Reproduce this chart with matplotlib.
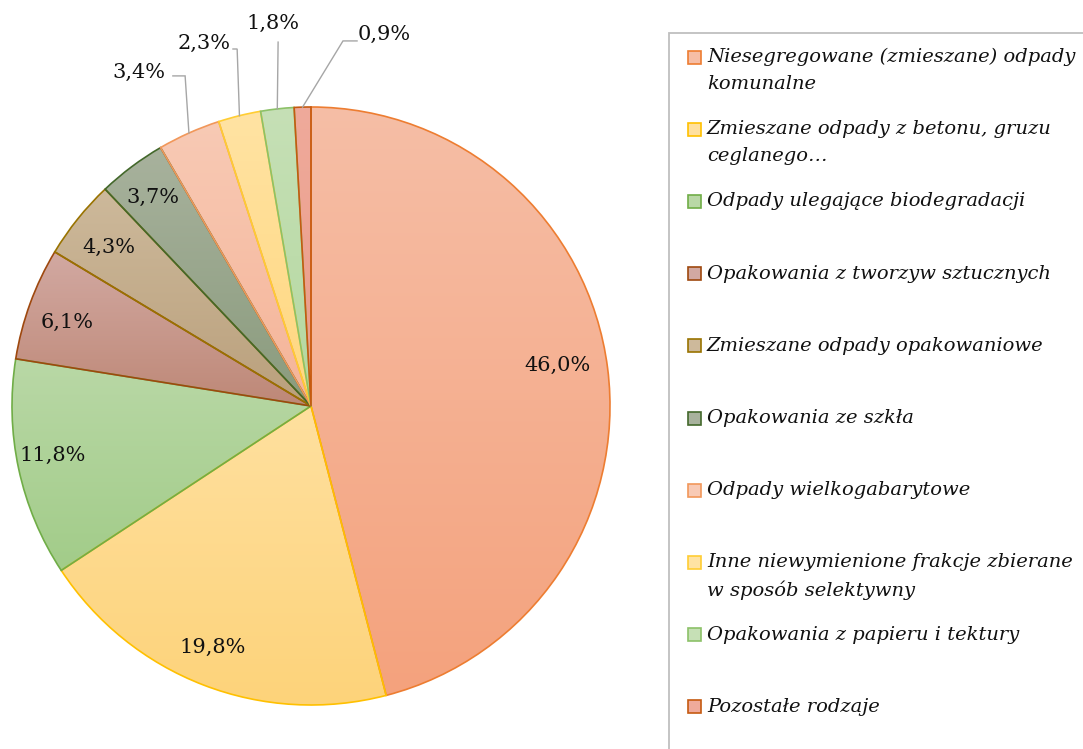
import numpy as np
import matplotlib
matplotlib.use("Agg")
import matplotlib.pyplot as plt
from matplotlib.patches import Rectangle
from matplotlib.colors import to_rgb

# ---------------- data ----------------
categories = [
    "Niesegregowane (zmieszane) odpady\nkomunalne",
    "Zmieszane odpady z betonu, gruzu\nceglanego…",
    "Odpady ulegające biodegradacji",
    "Opakowania z tworzyw sztucznych",
    "Zmieszane odpady opakowaniowe",
    "Opakowania ze szkła",
    "Odpady wielkogabarytowe",
    "Inne niewymienione frakcje zbierane\nw sposób selektywny",
    "Opakowania z papieru i tektury",
    "Pozostałe rodzaje",
]
values = [46.0, 19.8, 11.8, 6.1, 4.3, 3.7, 3.4, 2.3, 1.8, 0.9]
value_labels = ["46,0%", "19,8%", "11,8%", "6,1%", "4,3%", "3,7%", "3,4%", "2,3%", "1,8%", "0,9%"]

# ---------------- style ----------------
top_colors = ["#F6BEA6", "#FFE09F", "#B9D8A6", "#D2A9A2", "#CDB99B", "#A8B29D",
              "#F8CAB5", "#FFE3A3", "#C6E0B6", "#EFAA9B"]
bot_colors = ["#F4A27D", "#FDD37A", "#A2CC89", "#BE8877", "#BAA07C", "#8A9B7D",
              "#F5B498", "#FFD77F", "#B4D8A0", "#EA9C88"]
edge_colors = ["#ED7D31", "#FFC000", "#70AD47", "#9E480E", "#997300", "#43682B",
               "#F1975A", "#FFCD33", "#8CC168", "#C55A11"]

# label positions in pie-radius units (x, y)
label_pos = [(0.823, 0.137), (-0.328, -0.809), (-0.863, -0.164), (-0.816, 0.278),
             (-0.676, 0.532), (-0.528, 0.696), (-0.575, 1.117), (-0.358, 1.214),
             (-0.127, 1.281), (0.244, 1.244)]
# leader line start points (index -> list of points before the wedge edge)
leaders = {6: [(-0.462, 1.104), (-0.421, 1.104)],
           7: [(-0.261, 1.194), (-0.247, 1.194)],
           8: [(-0.110, 1.217)],
           9: [(0.154, 1.221), (0.107, 1.221)]}

W, H = 1083, 749
DPI = 100
fig = plt.figure(figsize=(W / DPI, H / DPI), dpi=DPI)
fig.patch.set_facecolor("white")

cx, cy, R = 311, 406, 299  # pixels
ax = fig.add_axes([0, 0, 1, 1])

wedges, _ = ax.pie(values, startangle=90, counterclock=False, radius=1,
                   center=(0, 0),
                   wedgeprops=dict(linewidth=1.2))

for i, w in enumerate(wedges):
    w.set_facecolor("none")
    w.set_edgecolor(edge_colors[i])
    w.set_zorder(2 + i * 0.01)
    bb = w.get_path().get_extents()
    t = np.linspace(0, 1, 256)[:, None]
    c0 = np.array(to_rgb(top_colors[i]))
    c1 = np.array(to_rgb(bot_colors[i]))
    grad = (1 - t) * c0 + t * c1
    grad = grad[:, None, :]
    im = ax.imshow(grad, extent=[bb.x0, bb.x1, bb.y0, bb.y1], origin="upper",
                   aspect="auto", interpolation="bilinear", zorder=1)
    im.set_clip_path(w)

ax.set_xlim(-cx / R, (W - cx) / R)
ax.set_ylim(-(H - cy) / R, cy / R)
ax.set_aspect("auto")
ax.axis("off")

label_font = dict(family=["DejaVu Serif"], size=15, color="#111111")
for i, (lx, ly) in enumerate(label_pos):
    ax.text(lx, ly, value_labels[i], ha="center", va="center", zorder=5, **label_font)

for i, pts in leaders.items():
    w = wedges[i]
    mid = np.deg2rad((w.theta1 + w.theta2) / 2)
    edge = (np.cos(mid), np.sin(mid))
    xs = [p[0] for p in pts] + [edge[0]]
    ys = [p[1] for p in pts] + [edge[1]]
    ax.plot(xs, ys, color="#A6A6A6", lw=1.0, zorder=4, solid_joinstyle="miter")

# ---------------- legend ----------------
def fx(px):
    return px / W

def fy(py):
    return 1 - py / H

fig.patches.append(Rectangle((fx(669), fy(760)), fx(500), 727 / H,
                             transform=fig.transFigure, facecolor="none",
                             edgecolor="#BFBFBF", lw=1.3, zorder=0))

legend_font = dict(family=["DejaVu Serif"], style="italic", size=14, color="#111111")
y0, dy = 57, 72.2
for i, cat in enumerate(categories):
    yc = y0 + i * dy
    fig.patches.append(Rectangle((fx(688), fy(yc + 6.5)), 13 / W, 13 / H,
                                 transform=fig.transFigure,
                                 facecolor=top_colors[i], edgecolor=edge_colors[i],
                                 lw=1.2, zorder=3))
    fig.text(fx(707), fy(yc - 9), cat, ha="left", va="top",
             linespacing=1.6, **legend_font)

fig.savefig("out.png", dpi=DPI, facecolor="white")
